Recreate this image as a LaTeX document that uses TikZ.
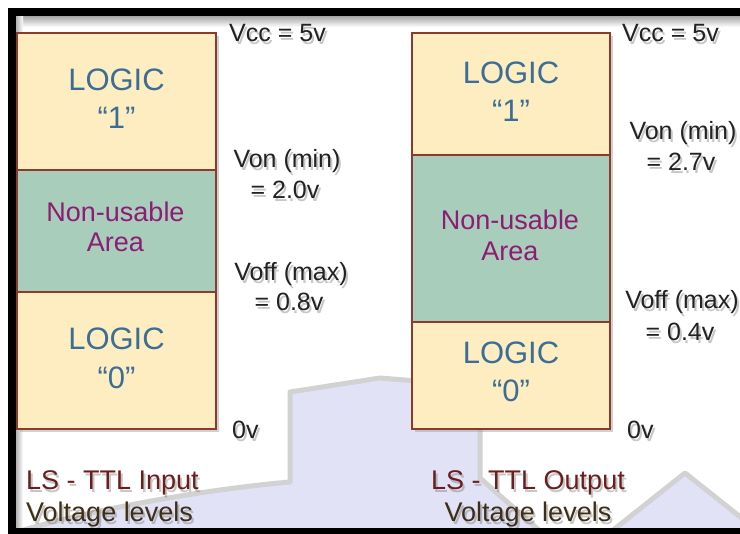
\documentclass[tikz,border=0pt]{standalone}
\usepackage{fontspec}
\setmainfont{Liberation Sans}
\definecolor{boxfill}{HTML}{FFEDC2}
\definecolor{greenfill}{HTML}{A8CEBB}
\definecolor{boxline}{HTML}{8A3B2C}
\definecolor{logicblue}{HTML}{3B6E96}
\definecolor{nonusec}{HTML}{8E1B74}
\definecolor{vtextc}{HTML}{222222}
\definecolor{lsred}{HTML}{6B1E1E}
\definecolor{lsbrown}{HTML}{3E2E16}
\definecolor{wmfill}{HTML}{E2E2F7}
\definecolor{wmline}{HTML}{D2D2D2}
\tikzset{
  region/.style={draw=boxline, line width=1.5pt, inner sep=0pt, outer sep=0pt},
  yellowbox/.style={region, fill=boxfill},
  greenbox/.style={region, fill=greenfill},
  boxshadow/.style={fill=black!40, opacity=0.45},
  logic/.style={text=logicblue, font=\fontsize{31}{31}\selectfont, inner sep=0pt, anchor=base},
  nonuse/.style={text=nonusec, font=\fontsize{27}{27}\selectfont, inner sep=0pt, anchor=base},
  volt/.style={text=vtextc, font=\fontsize{25}{25}\selectfont, inner sep=0pt},
  lslab/.style={font=\fontsize{27}{27}\selectfont},
  watermark/.style={fill=wmfill, draw=wmline, line width=5pt, line join=round},
}
\newcommand\shadowlabel[4]{%
  \node[volt,#3,text=black!55,opacity=0.4,xshift=2pt,yshift=-2.5pt] at (#2) {#4};
  \node[volt,#3] (#1) at (#2) {#4};
}
\begin{document}
\begin{tikzpicture}[x=1pt,y=-1pt]
\useasboundingbox (0,0) rectangle (740,534);
\fill[white] (0,0) rectangle (740,534);

% inner shadow of the frame
\shade[top color=black!35, bottom color=white] (16,16) rectangle (740,27);
\shade[left color=black!30, right color=white] (16,16) rectangle (23,528);

% faint watermark
\filldraw[watermark] (20,531) .. controls (110,505) and (220,488) .. (290,482)
  -- (290,392) -- (380,378) -- (480,386) -- (480,478) -- (540,531) -- cycle;
\filldraw[watermark] (612,531) -- (685,473) -- (758,531) -- cycle;

% box shadows
\fill[boxshadow] (20,36) rectangle (219,432);
\fill[boxshadow] (415,36) rectangle (613,432);

% left column
\node[yellowbox, minimum width=199, minimum height=137] (L1) at (116.5,101.5) {};
\node[greenbox,  minimum width=199, minimum height=122] (Lg) at (116.5,231) {};
\node[yellowbox, minimum width=199, minimum height=137] (L0) at (116.5,360.5) {};
% right column
\node[yellowbox, minimum width=198, minimum height=122] (R1) at (511,94) {};
\node[greenbox,  minimum width=198, minimum height=167] (Rg) at (511,238.5) {};
\node[yellowbox, minimum width=198, minimum height=107] (R0) at (511,375.5) {};

% box texts
\node[logic] (L1a) at (116.5,91) {LOGIC};
\node[logic] (L1b) at (116.5,128.5) {“1”};
\node[nonuse] (Lga) at (115.5,222) {Non-usable};
\node[nonuse] (Lgb) at (115.5,252) {Area};
\node[logic] (L0a) at (116.5,350) {LOGIC};
\node[logic] (L0b) at (116.5,388.5) {“0”};

\node[logic] (R1a) at (511,84) {LOGIC};
\node[logic] (R1b) at (511,122) {“1”};
\node[nonuse] (Rga) at (510,230) {Non-usable};
\node[nonuse] (Rgb) at (510,261) {Area};
\node[logic] (R0a) at (511,364) {LOGIC};
\node[logic] (R0b) at (511,402) {“0”};

% voltage labels, left
\shadowlabel{vccL}{229,42}{anchor=base west}{Vcc = 5v}
\shadowlabel{vonL}{287,168}{anchor=base}{Von (min)}
\shadowlabel{vonLv}{285,199}{anchor=base}{= 2.0v}
\shadowlabel{voffL}{291,281}{anchor=base}{Voff (max)}
\shadowlabel{voffLv}{289,311}{anchor=base}{= 0.8v}
\shadowlabel{zeroL}{232,439}{anchor=base west}{0v}
% voltage labels, right
\shadowlabel{vccR}{622,42}{anchor=base west}{Vcc = 5v}
\shadowlabel{vonR}{683,140}{anchor=base}{Von (min)}
\shadowlabel{vonRv}{681,171}{anchor=base}{= 2.7v}
\shadowlabel{voffR}{682,309}{anchor=base}{Voff (max)}
\shadowlabel{voffRv}{680,341}{anchor=base}{= 0.4v}
\shadowlabel{zeroR}{627,439}{anchor=base west}{0v}

% captions
\shadowlabel{lsinA}{26,490}{anchor=base west, lslab, text=lsred}{LS - TTL Input}
\shadowlabel{lsinB}{26,522}{anchor=base west, lslab, text=lsbrown}{Voltage levels}
\shadowlabel{lsoutA}{528,490}{anchor=base, lslab, text=lsred}{LS - TTL Output}
\shadowlabel{lsoutB}{528,522}{anchor=base, lslab, text=lsbrown}{Voltage levels}

% frame
\fill[black] (8,8) rectangle (740,16);
\fill[black] (8,8) rectangle (16,534);
\fill[black] (8,528) rectangle (740,534);
\end{tikzpicture}
\end{document}
